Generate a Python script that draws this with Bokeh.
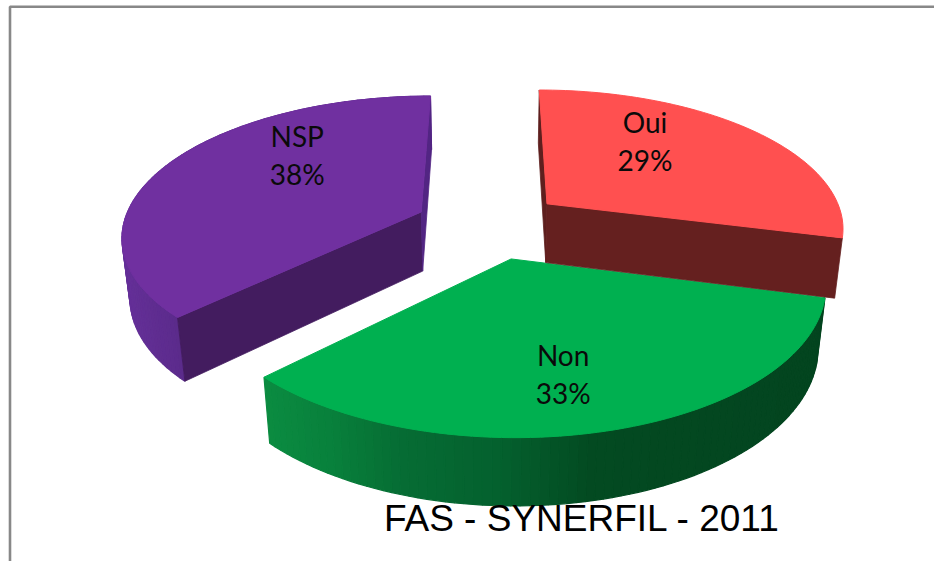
import numpy as np
from bokeh.plotting import figure
from bokeh.models import Range1d, ColumnDataSource
from bokeh.core.properties import value
from bokeh.embed import file_html
from bokeh.resources import INLINE

# --- data ---
categories = ["Oui", "Non", "NSP"]
percents = [29, 33, 38]
footer = "FAS - SYNERFIL - 2011"

# --- styles ---
top_colors = ["#FF5050", "#00B050", "#7030A0"]
start_face_colors = ["#5E1F1E", "#024A22", "#431C5F"]
end_face_colors = ["#65201F", "#024A22", "#522583"]
wall_stops = [
    [(0.0, "#65201F"), (1.0, "#65201F")],
    [(265, "#0B8C41"), (330, "#08813C"), (400, "#066D34"), (500, "#04602E"), (590, "#034A21"), (830, "#03441F")],
    [(120, "#66309A"), (150, "#612E93"), (188, "#5A2A8A")],
]

# --- projection (layout) ---
CX, CY, A, B, P, D, Q, EXPLODE = 489, 224, 298, 138, 0.159, 61, 0.022, 0.25
label_offsets = [(98, -63), (52, 115), (-124, -57)]
edge_warp_deg = [0.0, 2.3, 0.0]   # the perspective of the source bends this slice edge


def project(X, Y, low=False):
    den = 1 - P * Y + (Q if low else 0)
    return CX + A * X / den, CY + (B * Y + (D if low else 0)) / den


def hexrgb(h):
    return np.array([int(h[i:i + 2], 16) for i in (1, 3, 5)], float)


def stop_color(stops, x):
    xs = [s[0] for s in stops]
    rgb = np.array([hexrgb(s[1]) for s in stops])
    c = [np.interp(x, xs, rgb[:, k]) for k in range(3)]
    return "#%02x%02x%02x" % tuple(int(round(v)) for v in c)


p = figure(width=934, height=561, output_backend="svg", toolbar_location=None,
           x_range=Range1d(0, 934), y_range=Range1d(561, 0),
           min_border=0, outline_line_color=None, background_fill_color="white")
p.axis.visible = False
p.grid.visible = False

# chart frame
p.line([9.5, 9.5, 934], [561, 6.2, 6.2], line_color="#888888", line_width=2.6)


def poly(xs, ys, color, lw=0.8):
    p.patch(list(xs), list(ys), fill_color=color, line_color=color, line_width=lw)


frac = np.array(percents) / sum(percents) * 2 * np.pi
starts = np.concatenate([[0], np.cumsum(frac)[:-1]])
ends = np.cumsum(frac)
warp = np.radians(edge_warp_deg)

slices = []
for i in range(len(percents)):
    mid = (starts[i] + ends[i]) / 2
    t0 = starts[i] + (warp[i - 1] if i else 0.0)
    t1 = ends[i] + warp[i]
    slices.append(dict(i=i, t0=t0, t1=t1,
                       ex=EXPLODE * np.sin(mid), ey=-EXPLODE * np.cos(mid)))

labels = []
for s in [slices[2], slices[1], slices[0]]:   # back-most first, Oui's wall over the green
    i, ex, ey = s["i"], s["ex"], s["ey"]
    th = np.linspace(s["t0"], s["t1"], int(np.degrees(s["t1"] - s["t0"]) / 1.5) + 2)
    Xw, Yw = ex + np.sin(th), ey - np.cos(th)
    tx, ty = project(Xw, Yw)
    bx, by = project(Xw, Yw, low=True)
    ax, ay = project(ex, ey)
    abx, aby = project(ex, ey, low=True)

    # outer wall, cell by cell so the shading can vary along it (Oui's is hidden)
    if i:
        for k in range(len(th) - 1):
            xm = (bx[k] + bx[k + 1]) / 2
            col = stop_color(wall_stops[i], xm)
            poly([tx[k], tx[k + 1], bx[k + 1], bx[k]], [ty[k], ty[k + 1], by[k + 1], by[k]], col, 1.2)
    # cut faces
    if i != 1:
        poly([ax, tx[0], bx[0], abx], [ay, ty[0], by[0], aby], start_face_colors[i])
        poly([ax, tx[-1], bx[-1], abx], [ay, ty[-1], by[-1], aby], end_face_colors[i])
    # top
    poly(np.r_[ax, tx], np.r_[ay, ty], top_colors[i], 1.0)
    labels.append((i, ax, ay))

for i, ax, ay in labels:
    dx, dy = label_offsets[i]
    src = ColumnDataSource(dict(x=[ax + dx, ax + dx], y=[ay + dy - 19, ay + dy + 19],
                                t=[categories[i], f"{percents[i]}%"]))
    p.text("x", "y", text="t", source=src, text_font=value("Lato"), text_font_size="28px",
           text_color="#0a0a0a", text_align="center", text_baseline="middle")

p.text([581.5], [518], text=[footer], text_font=value("Liberation Sans"), text_font_size="37px",
       text_color="#000000", text_align="center", text_baseline="alphabetic")

open("out.html", "w").write(file_html(p, INLINE))
